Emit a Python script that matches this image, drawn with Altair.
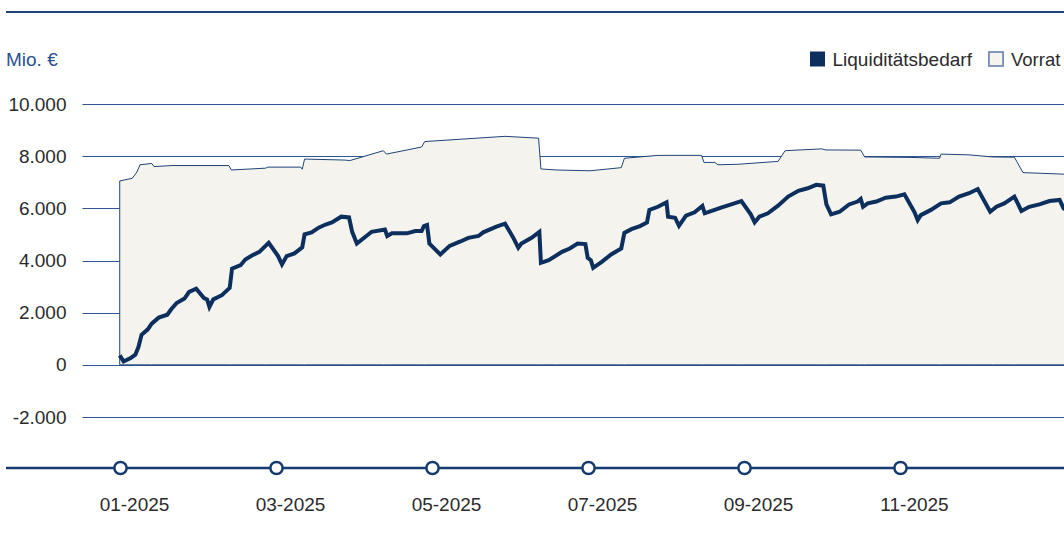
import altair as alt
import pandas as pd

# ---------------- data (month index: 0 = Jan 2025) ----------------
liq_monat = [-0.01, 0.04, 0.13, 0.19, 0.23, 0.27, 0.35, 0.40, 0.49, 0.60, 0.65, 0.72, 0.82, 0.88, 0.97,
             1.07, 1.11, 1.14, 1.19, 1.30, 1.40, 1.43, 1.54, 1.60, 1.69, 1.78, 1.90, 2.02, 2.07, 2.13,
             2.23, 2.33, 2.36, 2.45, 2.54, 2.63, 2.71, 2.83, 2.93, 2.97, 3.03, 3.14, 3.22, 3.39, 3.42,
             3.48, 3.67, 3.78, 3.86, 3.89, 3.93, 3.96, 4.10, 4.22, 4.35, 4.46, 4.59, 4.65, 4.82, 4.93,
             5.04, 5.10, 5.14, 5.27, 5.37, 5.39, 5.49, 5.66, 5.76, 5.86, 5.96, 5.99, 6.03, 6.06, 6.17,
             6.29, 6.42, 6.46, 6.55, 6.66, 6.75, 6.78, 6.89, 7.00, 7.02, 7.11, 7.16, 7.25, 7.36, 7.46,
             7.49, 7.58, 7.70, 7.87, 7.96, 8.08, 8.13, 8.19, 8.30, 8.43, 8.56, 8.69, 8.81, 8.92, 9.01,
             9.05, 9.11, 9.22, 9.34, 9.45, 9.49, 9.52, 9.58, 9.69, 9.81, 9.94, 10.05, 10.18, 10.22,
             10.26, 10.39, 10.52, 10.63, 10.75, 10.88, 10.99, 11.05, 11.15, 11.23, 11.33, 11.46,
             11.55, 11.65, 11.78, 11.91, 12.04, 12.09, 12.20]
liq_wert = [360, 130, 260, 390, 680, 1150, 1360, 1580, 1810, 1920, 2130, 2370, 2540, 2800, 2920,
            2560, 2510, 2220, 2510, 2670, 2950, 3690, 3820, 4040, 4200, 4330, 4680, 4170, 3850, 4170,
            4270, 4500, 5000, 5080, 5260, 5380, 5460, 5680, 5650, 5100, 4650, 4910, 5100, 5190, 4940,
            5040, 5040, 5130, 5130, 5320, 5360, 4650, 4230, 4560, 4720, 4870, 4940, 5080, 5300, 5410,
            4850, 4490, 4650, 4870, 5100, 3910, 4010, 4330, 4460, 4650, 4630, 4100, 4010, 3720, 3950,
            4230, 4460, 5060, 5200, 5320, 5460, 5940, 6060, 6230, 5680, 5640, 5330, 5720, 5850, 6090,
            5810, 5900, 6030, 6190, 6280, 5770, 5460, 5680, 5810, 6100, 6450, 6670, 6770, 6900, 6870,
            6150, 5770, 5870, 6150, 6260, 6360, 6060, 6190, 6260, 6410, 6450, 6540, 5850, 5550,
            5740, 5940, 6190, 6230, 6450, 6580, 6740, 6410, 5870, 6060, 6190, 6450,
            5900, 6060, 6150, 6280, 6320, 6000, 5800]

vor_monat = [-0.01, 0.15, 0.21, 0.25, 0.40, 0.43, 0.66, 1.39, 1.42, 1.86, 1.89, 2.31, 2.33, 2.36,
             2.88, 2.94, 3.37, 3.41, 3.86, 3.90, 4.57, 4.93, 5.36, 5.39, 5.59, 6.02, 6.42, 6.46,
             6.89, 7.45, 7.48, 7.62, 7.66, 7.92, 8.43, 8.52, 8.99, 9.04, 9.49, 9.54, 10.16, 10.50,
             10.52, 10.88, 11.18, 11.46, 11.57, 12.10, 12.20]
vor_wert = [7050, 7150, 7390, 7670, 7720, 7600, 7640, 7640, 7470, 7540, 7580, 7580, 7500, 7890,
            7850, 7830, 8210, 8080, 8350, 8560, 8690, 8760, 8690, 7510, 7470, 7440, 7560, 7920,
            8030, 8030, 7760, 7760, 7670, 7690, 7800, 8210, 8280, 8240, 8230, 7970, 7950, 7920,
            8080, 8050, 7970, 7960, 7370, 7310, 7300]

tick_monat = [0, 2, 4, 6, 8, 10]
tick_labels = ["01-2025", "03-2025", "05-2025", "07-2025", "09-2025", "11-2025"]
y_ticks = [-2000, 0, 2000, 4000, 6000, 8000, 10000]
legend_labels = ["Liquiditätsbedarf", "Vorrat"]
unit_label = "Mio. €"

# ---------------- styling ----------------
NAVY = "#0c2f5e"
GRID = "#2f5690"
EDGE = "#1f4478"
FILL = "#f4f3ed"
TEXT = "#2b2b2b"
FONT = "Liberation Sans"
FS = 19

xscale = alt.Scale(domain=[-0.4936, 12.096], nice=False, zero=False)
yscale = alt.Scale(domain=[-2000, 10000], nice=False, zero=False)

yaxis = alt.Axis(
    values=y_ticks, grid=True, gridColor=GRID, gridWidth=1.2, domain=False, ticks=False,
    labelPadding=16, labelFontSize=FS, labelFont=FONT, labelColor=TEXT, title=None,
    labelExpr="(datum.value < 0 ? '-' : '') + replace(format(abs(datum.value), ','), ',', '.')",
)

liq_df = pd.DataFrame({"Monat": liq_monat, "Wert": liq_wert})
vor_df = pd.DataFrame({"Monat": vor_monat, "Wert": vor_wert})
tick_df = pd.DataFrame({"Monat": tick_monat, "Label": tick_labels})

area = alt.Chart(vor_df).mark_area(
    fill=FILL, stroke=EDGE, strokeWidth=1, clip=True, interpolate="linear"
).encode(
    x=alt.X("Monat:Q", scale=xscale, axis=None),
    y=alt.Y("Wert:Q", scale=yscale, axis=yaxis),
)

line = alt.Chart(liq_df).mark_line(
    color=NAVY, strokeWidth=4, clip=True, strokeJoin="miter", strokeMiterLimit=3
).encode(
    x=alt.X("Monat:Q", scale=xscale, axis=None),
    y=alt.Y("Wert:Q", scale=yscale, axis=yaxis),
)

# decorative rules (top border line and timeline)
top_rule = alt.Chart(pd.DataFrame({"a": [0]})).mark_rule(color=EDGE, strokeWidth=2).encode(
    x=alt.value(-76), x2=alt.value(982), y=alt.value(-92)
)
time_rule = alt.Chart(pd.DataFrame({"a": [0]})).mark_rule(color="#173b6e", strokeWidth=2.5).encode(
    x=alt.value(-76), x2=alt.value(982), y=alt.value(364)
)

circles = alt.Chart(tick_df).mark_point(
    shape="circle", filled=True, fill="white", stroke="#173b6e", strokeWidth=2.5, size=150, opacity=1
).encode(
    x=alt.X("Monat:Q", scale=xscale, axis=None),
    y=alt.value(364),
)

tick_text = alt.Chart(tick_df).mark_text(
    font=FONT, fontSize=FS, color=TEXT, align="center", baseline="middle", dx=14
).encode(
    x=alt.X("Monat:Q", scale=xscale, axis=None),
    y=alt.value(401),
    text="Label:N",
)

unit = alt.Chart(pd.DataFrame({"t": [unit_label]})).mark_text(
    font=FONT, fontSize=FS, color="#2a5090", align="left", baseline="middle"
).encode(x=alt.value(-76), y=alt.value(-44), text="t:N")

leg_sq1 = alt.Chart(pd.DataFrame({"a": [0]})).mark_point(
    shape="square", filled=True, fill=NAVY, size=225, opacity=1
).encode(x=alt.value(735.5), y=alt.value(-45))
leg_tx1 = alt.Chart(pd.DataFrame({"t": [legend_labels[0]]})).mark_text(
    font=FONT, fontSize=FS, color=TEXT, align="left", baseline="middle"
).encode(x=alt.value(750.5), y=alt.value(-44), text="t:N")
leg_sq2 = alt.Chart(pd.DataFrame({"a": [0]})).mark_point(
    shape="square", filled=True, fill=FILL, stroke="#5d7aa6", strokeWidth=1.5, size=200, opacity=1
).encode(x=alt.value(914), y=alt.value(-45))
leg_tx2 = alt.Chart(pd.DataFrame({"t": [legend_labels[1]]})).mark_text(
    font=FONT, fontSize=18.5, color=TEXT, align="left", baseline="middle"
).encode(x=alt.value(929), y=alt.value(-44), text="t:N")

chart = alt.layer(
    area, line, top_rule, time_rule, circles, tick_text, unit, leg_sq1, leg_tx1, leg_sq2, leg_tx2
).properties(
    width=982, height=313,
    autosize=alt.AutoSizeParams(type="none"),
    padding={"left": 82, "top": 104, "right": 0, "bottom": 127},
    background="white",
).configure_view(stroke=None)

chart.save("out.html", embed_options={"renderer": "svg", "actions": False})
